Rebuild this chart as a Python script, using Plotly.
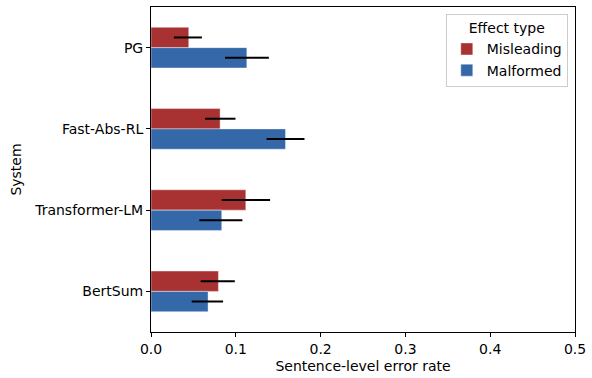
import plotly.graph_objects as go

systems = ["PG", "Fast-Abs-RL", "Transformer-LM", "BertSum"]
misleading = [0.0445, 0.0815, 0.1118, 0.0795]
misleading_lo = [0.027, 0.0637, 0.0834, 0.0586]
misleading_hi = [0.060, 0.0996, 0.1404, 0.0988]
malformed = [0.113, 0.1586, 0.0834, 0.0673]
malformed_lo = [0.0873, 0.1362, 0.057, 0.048]
malformed_hi = [0.139, 0.181, 0.1078, 0.085]
x_ticks = [0.0, 0.1, 0.2, 0.3, 0.4, 0.5]

RED = "#a83232"
BLUE = "#3468a8"
FONT = "DejaVu Sans"
FS = 14

def err(vals, lo, hi):
    return dict(type="data", symmetric=False,
                array=[h - v for v, h in zip(vals, hi)],
                arrayminus=[v - l for v, l in zip(vals, lo)],
                color="black", thickness=2, width=0)

fig = go.Figure()
fig.add_trace(go.Bar(y=systems, x=misleading, orientation="h", name="Misleading",
                     marker=dict(color=RED, line=dict(color="rgba(255,255,255,0.5)", width=0.8)),
                     error_x=err(misleading, misleading_lo, misleading_hi)))
fig.add_trace(go.Bar(y=systems, x=malformed, orientation="h", name="Malformed",
                     marker=dict(color=BLUE, line=dict(color="rgba(255,255,255,0.5)", width=0.8)),
                     error_x=err(malformed, malformed_lo, malformed_hi)))

fig.update_layout(
    width=592, height=378,
    margin=dict(l=151, r=17, t=6, b=42),
    plot_bgcolor="white", paper_bgcolor="white",
    barmode="group", bargap=0.5, bargroupgap=0,
    font=dict(family=FONT, size=FS, color="black"),
    legend=dict(
        title=dict(text="Effect type", side="top center", font=dict(size=FS)),
        x=0.983, y=0.978, xanchor="right", yanchor="top",
        bordercolor="#cccccc", borderwidth=1, bgcolor="white",
        traceorder="normal", font=dict(size=FS),
    ),
    xaxis=dict(
        range=[0, 0.5], tickvals=x_ticks, ticktext=[f"{v:.1f}" for v in x_ticks],
        showgrid=False, zeroline=False, showline=True, linecolor="black", linewidth=1,
        mirror=True, ticks="outside", ticklen=4, tickcolor="black",
        tickfont=dict(size=FS),
        title=dict(text="Sentence-level error rate", standoff=5, font=dict(size=FS)),
    ),
    yaxis=dict(
        type="category", categoryorder="array", categoryarray=systems,
        autorange=False, range=[3.5, -0.5],
        showgrid=False, zeroline=False, showline=True, linecolor="black", linewidth=1,
        mirror=True, ticks="outside", ticklen=4, tickcolor="black",
        tickfont=dict(size=FS),
        title=dict(text="System", standoff=9, font=dict(size=FS)),
    ),
)

fig.write_html("out.html", config={"displayModeBar": False},
               post_script="document.body.style.margin='0';")
